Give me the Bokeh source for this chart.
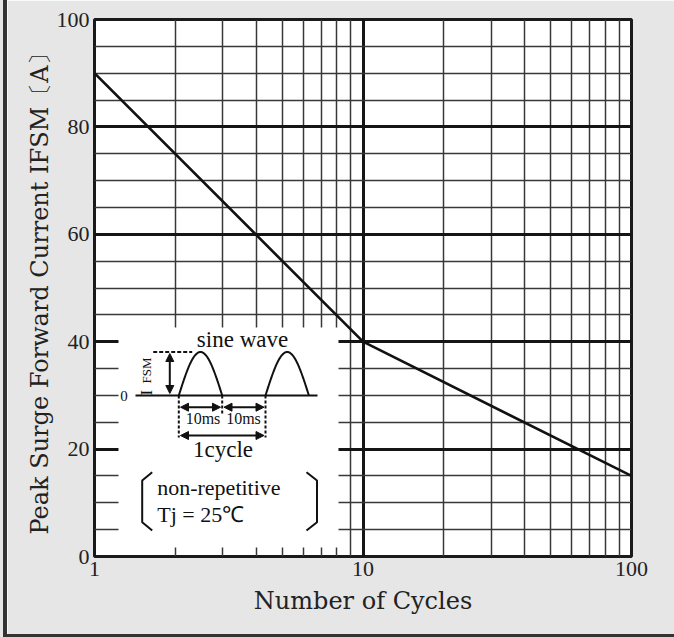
import numpy as np
from bokeh.plotting import figure
from bokeh.models import FixedTicker, Arrow, NormalHead
from bokeh.core.properties import value
from bokeh.embed import file_html
from bokeh.resources import INLINE

# ---- data ----
cycles = [1, 10, 100]
ifsm = [90, 40, 15]
x_ticks = [1, 10, 100]
x_tick_labels = ["1", "10", "100"]
x_minor = [2, 3, 4, 5, 6, 7, 8, 9, 20, 30, 40, 50, 60, 70, 80, 90]
y_ticks = [0, 20, 40, 60, 80, 100]
y_minor = [5, 10, 15, 25, 30, 35, 45, 50, 55, 65, 70, 75, 85, 90, 95]

# ---- page geometry of the frame (page pixels) ----
PX_L, PX_R, PY_T, PY_B = 94.0, 631.0, 19.0, 556.0


def dx(px):
    return 10 ** (2.0 * (px - PX_L) / (PX_R - PX_L))


def dy(py):
    return 100.0 * (PY_B - py) / (PY_B - PY_T)


def DX(a):
    return [dx(v) for v in a]


def DY(a):
    return [dy(v) for v in a]


p = figure(x_axis_type="log", x_range=(1, 100), y_range=(0, 100),
           frame_width=537, frame_height=537,
           min_border_left=87, min_border_right=43, min_border_top=19, min_border_bottom=78,
           output_backend="svg", toolbar_location=None)
p.background_fill_color = "white"
p.border_fill_color = "#e6e6e6"
p.outline_line_color = "#1a1a1a"
p.outline_line_width = 3
p.styles = {"margin-left": "3px", "border-left": "4px solid #333333",
            "border-bottom": "3px solid #333333",
            "box-shadow": "-3px 0 0 0 #e6e6e6"}

# grids
p.xgrid.ticker = FixedTicker(ticks=x_ticks, minor_ticks=x_minor)
p.xgrid.grid_line_color = "#151515"
p.xgrid.grid_line_width = 3
p.xgrid.minor_grid_line_color = "#383838"
p.xgrid.minor_grid_line_width = 1.5
p.ygrid.ticker = FixedTicker(ticks=y_ticks, minor_ticks=y_minor)
p.ygrid.grid_line_color = "#151515"
p.ygrid.grid_line_width = 3
p.ygrid.minor_grid_line_color = "#383838"
p.ygrid.minor_grid_line_width = 1.5

# axes
p.xaxis.ticker = FixedTicker(ticks=x_ticks)
p.xaxis.major_label_overrides = {t: l for t, l in zip(x_ticks, x_tick_labels)}
p.yaxis.ticker = FixedTicker(ticks=y_ticks)
for ax in (p.xaxis, p.yaxis):
    ax.axis_line_color = None
    ax.major_tick_line_color = None
    ax.minor_tick_line_color = None
    ax.major_tick_out = 0
    ax.major_label_text_font = "Liberation Serif"
    ax.major_label_text_font_size = "22px"
    ax.major_label_text_color = "#222222"
    ax.major_label_standoff = 5
    ax.axis_label_text_font = "DejaVu Serif"
    ax.axis_label_text_font_size = "24px"
    ax.axis_label_text_font_style = "normal"
    ax.axis_label_text_color = "#222222"
p.xaxis.axis_label = "Number of Cycles"
p.xaxis.axis_label_standoff = 8
p.yaxis.axis_label = "Peak Surge Forward Current IFSM〔A〕"
p.yaxis.axis_label_standoff = 0

# inset white box
p.quad(left=dx(118), right=dx(338), bottom=dy(547), top=dy(327),
       fill_color="white", line_color=None)

# main curve
p.line(cycles, ifsm, line_color="#111111", line_width=2.6)

# ---- inset diagram (page-pixel layout converted to data space) ----
ink = "#111111"
base = 395.0
amp = 43.5
for x0 in (178.3, 265.0):
    xs = np.linspace(x0, x0 + 43.4, 80)
    ys = base - amp * np.sin(np.pi * (xs - x0) / 43.4)
    p.line(DX(xs), DY(ys), line_color=ink, line_width=2)
p.line(DX([135, 317]), DY([base, base]), line_color=ink, line_width=2)

# dashed guides
p.line(DX([152.7, 191.7]), DY([base - amp, base - amp]), line_color=ink, line_width=2, line_dash="4 2")
p.line(DX([178.3, 178.3]), DY([base, 437]), line_color=ink, line_width=2, line_dash="3 2")
p.line(DX([221.7, 221.7]), DY([base, 414]), line_color=ink, line_width=2, line_dash="3 2")
p.line(DX([265.0, 265.0]), DY([base, 437]), line_color=ink, line_width=2, line_dash="3 2")


def head():
    return NormalHead(size=8, fill_color=ink, line_color=ink)


for (xa, ya, xb, yb) in [(169.3, 353, 169.3, 393),
                         (180, 406.7, 220, 406.7),
                         (223.5, 406.7, 263.5, 406.7),
                         (180, 435, 263.5, 435)]:
    p.add_layout(Arrow(start=head(), end=head(), x_start=dx(xa), y_start=dy(ya),
                       x_end=dx(xb), y_end=dy(yb), line_color=ink, line_width=2))

# brackets
p.line(DX([151.7, 141.7, 141.7, 151.7]), DY([471.7, 480, 521.7, 530]), line_color=ink, line_width=2)
p.line(DX([306.0, 316.5, 316.5, 306.0]), DY([471.7, 480, 521.7, 530]), line_color=ink, line_width=2)

inset_font = value("Liberation Serif")
p.text(x=DX([242]), y=DY([339]), text=["sine wave"], text_font=inset_font,
       text_font_size="23px", text_align="center", text_baseline="alphabetic", text_color=ink)
p.text(x=DX([123.5]), y=DY([base]), text=["0"], text_font=inset_font,
       text_font_size="15px", text_align="center", text_baseline="middle", text_color=ink)
p.text(x=DX([202.5, 243]), y=DY([418, 418]), text=["10ms", "10ms"], text_font=inset_font,
       text_font_size="16px", text_align="center", text_baseline="alphabetic", text_color=ink)
p.text(x=DX([222.5]), y=DY([449]), text=["1cycle"], text_font=inset_font,
       text_font_size="23px", text_align="center", text_baseline="alphabetic", text_color=ink)
p.text(x=DX([156.7, 156.7]), y=DY([487, 513.5]), text=["non-repetitive", "Tj = 25℃"],
       text_font=inset_font, text_font_size="22px", text_align="left",
       text_baseline="alphabetic", text_color=ink)
p.text(x=DX([146]), y=DY([395]), text=["I"], text_font=inset_font, angle=np.pi / 2,
       text_font_size="17px", text_align="left", text_baseline="alphabetic", text_color=ink)
p.text(x=DX([146]), y=DY([383]), text=["FSM"], text_font=inset_font, angle=np.pi / 2,
       text_font_size="13px", text_align="left", text_baseline="alphabetic", text_color=ink)

open("out.html", "w").write(file_html(p, INLINE))
